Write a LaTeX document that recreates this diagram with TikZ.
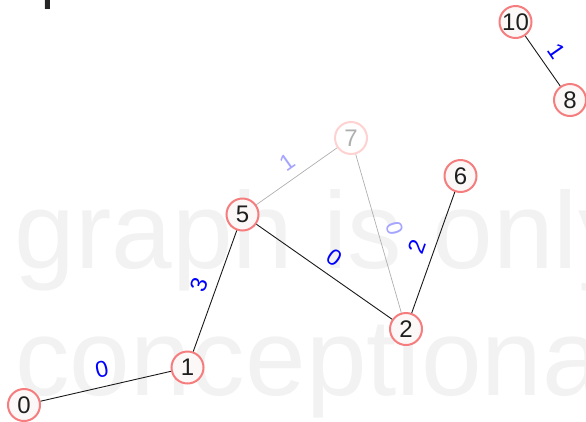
\documentclass[tikz,border=0pt]{standalone}
\usepackage{fontspec}
\setmainfont{Liberation Sans}
\definecolor{nodeline}{RGB}{245,125,125}
\definecolor{nodefill}{RGB}{253,248,248}
\definecolor{fadeline}{RGB}{255,210,210}
\definecolor{wmgray}{RGB}{242,242,242}
\definecolor{fadegray}{RGB}{175,175,175}
\definecolor{fadeblue}{RGB}{165,165,255}
\definecolor{edgeblue}{RGB}{0,0,255}
\begin{document}
\begin{tikzpicture}[x=1pt,y=-1pt,
  vert/.style={circle, draw=nodeline, fill=nodefill, line width=2pt, minimum size=32pt, inner sep=0pt, font=\fontsize{24}{24}\selectfont, text=black!88},
  fadedvert/.style={vert, draw=fadeline, fill=white, text=fadegray},
  link/.style={draw=black!90, line width=0.9pt},
  fadedlink/.style={draw=fadegray, line width=0.7pt},
  wlabel/.style={sloped, above, inner sep=8.5pt, font=\fontsize{23}{23}\selectfont, text=edgeblue},
  fadedlabel/.style={wlabel, text=fadeblue},
  wmark/.style={anchor=base west, inner sep=0pt, text=wmgray, font=\fontsize{109}{109}\selectfont}]
\useasboundingbox (0,0) rectangle (586,421);
\clip (0,0) rectangle (586,421);
% watermark
\node[wmark] (wm1) at (14.6,268) {graph is only};
\node[wmark] (wm2) at (15,395) {conceptional};
% cut-off title
\node[anchor=base west, inner sep=0pt, text=black!85, font=\fontsize{58}{58}\selectfont] (title) at (41,-3) {p};
% vertices
\node[vert] (n10) at (515.5,22) {10};
\node[vert] (n8) at (570,100) {8};
\node[fadedvert] (n7) at (351,138) {7};
\node[vert] (n6) at (460.5,176) {6};
\node[vert] (n5) at (242.5,214.5) {5};
\node[vert] (n2) at (406,329) {2};
\node[vert] (n1) at (187.5,367.5) {1};
\node[vert] (n0) at (24,405) {0};
% edges
\draw[fadedlink] (n5) -- node[fadedlabel] {1} (n7);
\draw[fadedlink] (n7) -- node[fadedlabel] {0} (n2);
\draw[link] (n0) -- node[wlabel] {0} (n1);
\draw[link] (n1) -- node[wlabel] {3} (n5);
\draw[link] (n5) -- node[wlabel] {0} (n2);
\draw[link] (n2) -- node[wlabel] {2} (n6);
\draw[link] (n10) -- node[wlabel] {1} (n8);
\end{tikzpicture}
\end{document}
